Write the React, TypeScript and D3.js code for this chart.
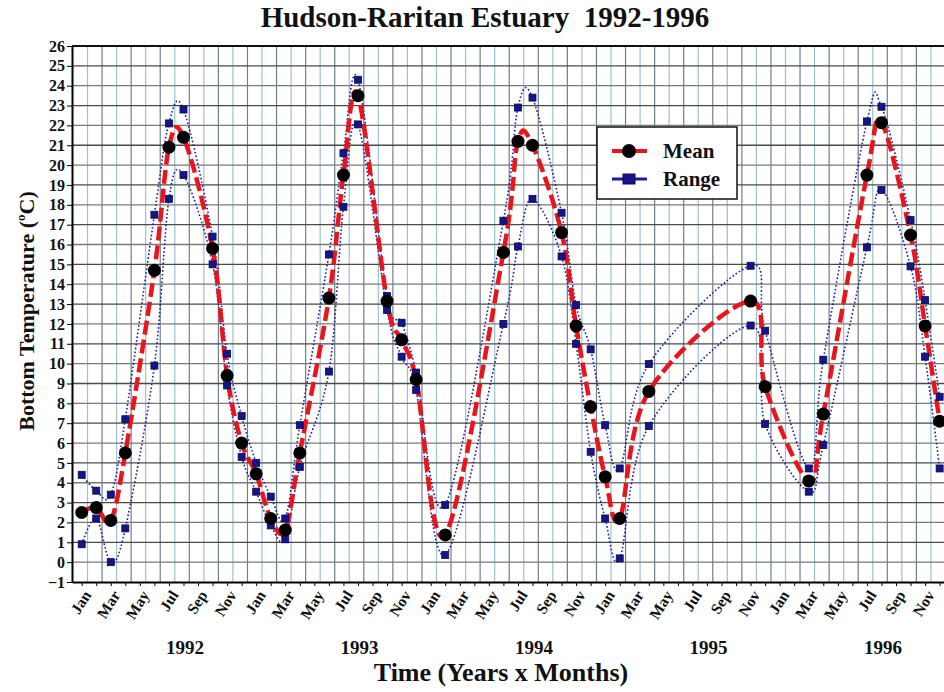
import * as d3 from "d3"
import React, { useEffect, useRef } from "react"

// sample months, counted from Jan 1992 = 0
const monthIdx = [
  0, 1, 2, 3, 5, 6, 7, 9, 10, 11,
  12, 13, 14, 15, 17, 18, 19, 21, 22, 23,
  25, 29, 30, 31, 33, 34, 35,
  36, 37, 39, 46, 47,
  50, 51, 54, 55, 57, 58, 59,
]
const meanTemp = [
  2.5, 2.75, 2.1, 5.5, 14.7, 20.9, 21.4, 15.8, 9.4, 6.0,
  4.45, 2.2, 1.62, 5.5, 13.3, 19.5, 23.5, 13.15, 11.2, 9.2,
  1.37, 15.6, 21.2, 21.0, 16.6, 11.9, 7.83,
  4.3, 2.2, 8.6, 13.15, 8.84,
  4.09, 7.46, 19.5, 22.14, 16.48, 11.9, 7.1,
]
const maxTemp = [
  4.4, 3.6, 3.4, 7.2, 17.5, 22.1, 22.8, 16.4, 10.5, 7.36,
  5.0, 3.3, 2.2, 6.9, 15.5, 20.6, 24.3, 13.4, 12.06, 9.55,
  2.88, 17.2, 22.9, 23.4, 17.6, 12.95, 10.72,
  6.9, 4.72, 9.98, 14.93, 11.66,
  4.72, 10.2, 22.2, 22.94, 17.23, 13.2, 8.33,
]
const minTemp = [
  0.9, 2.2, 0.0, 1.7, 9.9, 18.3, 19.5, 15.0, 8.9, 5.3,
  3.55, 1.85, 1.15, 4.8, 9.6, 17.9, 22.05, 12.7, 10.35, 8.67,
  0.36, 12.0, 15.9, 18.3, 15.4, 11.0, 5.56,
  2.2, 0.19, 6.86, 11.92, 6.96,
  3.55, 5.9, 15.86, 18.75, 14.9, 10.35, 4.72,
]
const monthLabels = ["Jan", "Mar", "May", "Jul", "Sep", "Nov"]
const years = ["1992", "1993", "1994", "1995", "1996"]
const yTicks = d3.range(-1, 27)

export default function App() {
  const ref = useRef<SVGSVGElement>(null)

  useEffect(() => {
    const svg = d3.select(ref.current)
    svg.selectAll("*").remove()

    const width = 944
    const height = 692
    const left = 72, right = 944, top = 46, bottom = 582
    const serif = "'Liberation Serif', 'Times New Roman', serif"

    const x = d3.scaleLinear().domain([-0.667, 59.3]).range([left, right])
    const y = d3.scaleLinear().domain([-1, 26]).range([bottom, top])

    svg.append("rect").attr("width", width).attr("height", height).attr("fill", "#fff")

    // grid
    const grid = svg.append("g")
    d3.range(0, 60).forEach(k => {
      grid.append("line")
        .attr("x1", x(k + 0.4)).attr("x2", x(k + 0.4))
        .attr("y1", top).attr("y2", bottom)
        .attr("stroke", k % 2 ? "#6f8088" : "#9cc3cb")
        .attr("stroke-width", 1.2)
    })
    d3.range(0, 26).forEach(v => {
      grid.append("line")
        .attr("x1", left).attr("x2", right)
        .attr("y1", y(v)).attr("y2", y(v))
        .attr("stroke", v % 2 ? "#4a4a4a" : "#7a7a7a")
        .attr("stroke-width", 1.3)
    })

    // top border
    svg.append("line")
      .attr("x1", left).attr("x2", right)
      .attr("y1", top).attr("y2", top)
      .attr("stroke", "#111").attr("stroke-width", 2)

    // y axis
    const yAxis = svg.append("g")
      .attr("transform", `translate(${left},0)`)
      .call(d3.axisLeft(y).tickValues(yTicks).tickSize(5).tickSizeOuter(0).tickPadding(2))
    yAxis.select(".domain").attr("stroke", "#000").attr("stroke-width", 2)
    yAxis.selectAll("text")
      .attr("font-family", serif).attr("font-weight", "bold")
      .attr("font-size", 16).attr("fill", "#111")

    // x axis
    const xAxis = svg.append("g")
      .attr("transform", `translate(0,${bottom})`)
      .call(d3.axisBottom(x).tickValues(d3.range(0, 60)).tickSize(4).tickSizeOuter(0).tickFormat(() => ""))
    xAxis.select(".domain").attr("stroke", "#000").attr("stroke-width", 2)

    d3.range(0, 60, 2).forEach(k => {
      const tx = x(k) + 7
      svg.append("text")
        .attr("transform", `translate(${tx},${bottom + 11}) rotate(-58)`)
        .attr("text-anchor", "end")
        .attr("dominant-baseline", "middle")
        .attr("font-family", serif).attr("font-weight", "bold")
        .attr("font-size", 15.5).attr("fill", "#111")
        .text(monthLabels[(k % 12) / 2])
    })

    years.forEach((yr, i) => {
      svg.append("text")
        .attr("x", x(7.1 + 12 * i)).attr("y", 654)
        .attr("text-anchor", "middle")
        .attr("font-family", serif).attr("font-weight", "bold")
        .attr("font-size", 19).attr("fill", "#111")
        .text(yr)
    })

    svg.append("text")
      .attr("x", 501).attr("y", 681)
      .attr("text-anchor", "middle")
      .attr("font-family", serif).attr("font-weight", "bold")
      .attr("font-size", 26).attr("fill", "#111")
      .text("Time (Years x Months)")

    const yLab = svg.append("text")
      .attr("transform", "translate(34,311) rotate(-90)")
      .attr("text-anchor", "middle")
      .attr("font-family", serif).attr("font-weight", "bold")
      .attr("font-size", 22).attr("fill", "#111")
    yLab.append("tspan").text("Bottom Temperature (")
    yLab.append("tspan").attr("font-size", 13).attr("dy", -9).text("o")
    yLab.append("tspan").attr("dy", 9).text("C)")

    svg.append("text")
      .attr("x", 485).attr("y", 27)
      .attr("text-anchor", "middle")
      .attr("font-family", serif).attr("font-weight", "bold")
      .attr("font-size", 29).attr("fill", "#111")
      .style("white-space", "pre")
      .text("Hudson-Raritan Estuary  1992-1996")

    // series
    const curve = d3.curveCardinal.tension(0)
    const line = d3.line<number>()
      .x((d, i) => x(monthIdx[i]))
      .y(d => y(d))
      .curve(curve)

    const plot = svg.append("g")
    const rangeColor = "#1c1ca6"
    ;[maxTemp, minTemp].forEach(s => {
      plot.append("path")
        .datum(s)
        .attr("fill", "none")
        .attr("stroke", rangeColor)
        .attr("stroke-width", 1.6)
        .attr("stroke-dasharray", "1.6 2.2")
        .attr("d", line)
    })

    plot.append("path")
      .datum(meanTemp)
      .attr("fill", "none")
      .attr("stroke", "#e8161c")
      .attr("stroke-width", 4.5)
      .attr("stroke-dasharray", "14 5")
      .attr("d", line)

    ;[maxTemp, minTemp].forEach(s => {
      plot.selectAll(null)
        .data(s)
        .enter()
        .append("rect")
        .attr("x", (d, i) => x(monthIdx[i]) - 3.5)
        .attr("y", d => y(d) - 3.5)
        .attr("width", 7).attr("height", 7)
        .attr("fill", "#15158a")
        .attr("stroke", "#0a0a50").attr("stroke-width", 0.8)
    })

    plot.selectAll(null)
      .data(meanTemp)
      .enter()
      .append("circle")
      .attr("cx", (d, i) => x(monthIdx[i]))
      .attr("cy", d => y(d))
      .attr("r", 6.5)
      .attr("fill", "#000")

    // legend
    const lg = svg.append("g")
    lg.append("rect")
      .attr("x", 597).attr("y", 127).attr("width", 140).attr("height", 72)
      .attr("fill", "#fff").attr("stroke", "#111").attr("stroke-width", 1.5)
    lg.append("line")
      .attr("x1", 612).attr("x2", 647).attr("y1", 151).attr("y2", 151)
      .attr("stroke", "#e8161c").attr("stroke-width", 4)
    lg.append("circle").attr("cx", 629).attr("cy", 151).attr("r", 7).attr("fill", "#000")
    lg.append("line")
      .attr("x1", 612).attr("x2", 647).attr("y1", 179).attr("y2", 179)
      .attr("stroke", rangeColor).attr("stroke-width", 3)
    lg.append("rect")
      .attr("x", 623).attr("y", 174).attr("width", 12).attr("height", 10)
      .attr("fill", "#15158a").attr("stroke", "#0a0a50")
    ;[["Mean", 158], ["Range", 186]].forEach(([t, ty]) => {
      lg.append("text")
        .attr("x", 663).attr("y", ty as number)
        .attr("font-family", serif).attr("font-weight", "bold")
        .attr("font-size", 21).attr("fill", "#111")
        .text(t as string)
    })
  }, [])

  return (
    <svg ref={ref} width={944} height={692}
      style={{ position: "absolute", left: 0, top: 0, display: "block" }} />
  )
}
